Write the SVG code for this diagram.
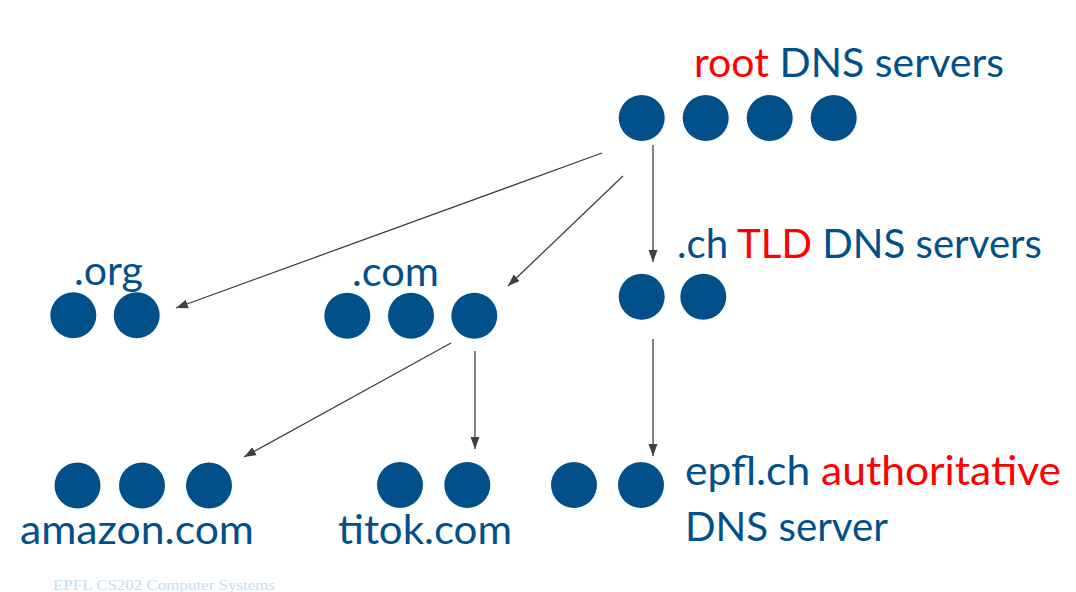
<svg xmlns="http://www.w3.org/2000/svg" width="1076" height="592" viewBox="0 0 1076 592">
<defs>
<style>
.srv{fill:#02508A}
.lbl{font-family:Lato,"Liberation Sans",sans-serif;font-size:40px;fill:#02508A}
.red{fill:#FF0000}
.edge{stroke:#404040;stroke-width:1.3;fill:none;marker-end:url(#arr)}
.foot{font-family:"Liberation Serif",serif;font-size:15px;fill:#C6DDF0}
</style>
<marker id="arr" markerUnits="userSpaceOnUse" markerWidth="14" markerHeight="10" refX="12" refY="4.5" orient="auto">
<path d="M0,0 L12,4.5 L0,9 Z" fill="#404040"/>
</marker>
</defs>
<rect width="1076" height="592" fill="#FFFFFF"/>

<g id="connectors">
<line class="edge" x1="602" y1="153" x2="176" y2="308"/>
<line class="edge" x1="623" y1="176" x2="508" y2="286"/>
<line class="edge" x1="653" y1="145" x2="653" y2="262"/>
<line class="edge" x1="451" y1="343" x2="244" y2="457"/>
<line class="edge" x1="475" y1="351" x2="475" y2="449"/>
<line class="edge" x1="653" y1="339" x2="653" y2="456"/>
</g>

<g id="root">
<text class="lbl" x="694" y="77" textLength="310" lengthAdjust="spacingAndGlyphs"><tspan class="red">root</tspan> DNS servers</text>
<circle class="srv" cx="641.7" cy="118" r="23"/>
<circle class="srv" cx="705.7" cy="118" r="23"/>
<circle class="srv" cx="769.7" cy="118" r="23"/>
<circle class="srv" cx="833.7" cy="118" r="23"/>
</g>

<g id="ch-tld">
<text class="lbl" x="677" y="258" textLength="365" lengthAdjust="spacingAndGlyphs">.ch <tspan class="red">TLD</tspan> DNS servers</text>
<circle class="srv" cx="641.7" cy="296.7" r="23"/>
<circle class="srv" cx="703.3" cy="296.7" r="23"/>
</g>

<g id="org">
<text class="lbl" x="74" y="285" textLength="69" lengthAdjust="spacingAndGlyphs">.org</text>
<circle class="srv" cx="73.3" cy="315.3" r="23"/>
<circle class="srv" cx="136.7" cy="315.3" r="23"/>
</g>

<g id="com">
<text class="lbl" x="352" y="286" textLength="87" lengthAdjust="spacingAndGlyphs">.com</text>
<circle class="srv" cx="347.3" cy="315.7" r="23"/>
<circle class="srv" cx="411" cy="315.7" r="23"/>
<circle class="srv" cx="474.3" cy="315.7" r="23"/>
</g>

<g id="amazon">
<circle class="srv" cx="77.5" cy="485.5" r="23"/>
<circle class="srv" cx="142" cy="485.5" r="23"/>
<circle class="srv" cx="209" cy="485.5" r="23"/>
<text class="lbl" x="20" y="544" textLength="234" lengthAdjust="spacingAndGlyphs">amazon.com</text>
</g>

<g id="titok">
<circle class="srv" cx="400" cy="485" r="23"/>
<circle class="srv" cx="467.3" cy="485" r="23"/>
<text class="lbl" x="338" y="544" textLength="174" lengthAdjust="spacingAndGlyphs">titok.com</text>
</g>

<g id="epfl">
<circle class="srv" cx="574" cy="485" r="23"/>
<circle class="srv" cx="641" cy="485" r="23"/>
<text class="lbl" x="685" y="485" textLength="376" lengthAdjust="spacingAndGlyphs">epfl.ch <tspan class="red">authoritative</tspan></text>
<text class="lbl" x="685" y="541" textLength="203" lengthAdjust="spacingAndGlyphs">DNS server</text>
</g>

<text class="foot" x="53" y="590" textLength="222" lengthAdjust="spacingAndGlyphs">EPFL CS202 Computer Systems</text>
</svg>
